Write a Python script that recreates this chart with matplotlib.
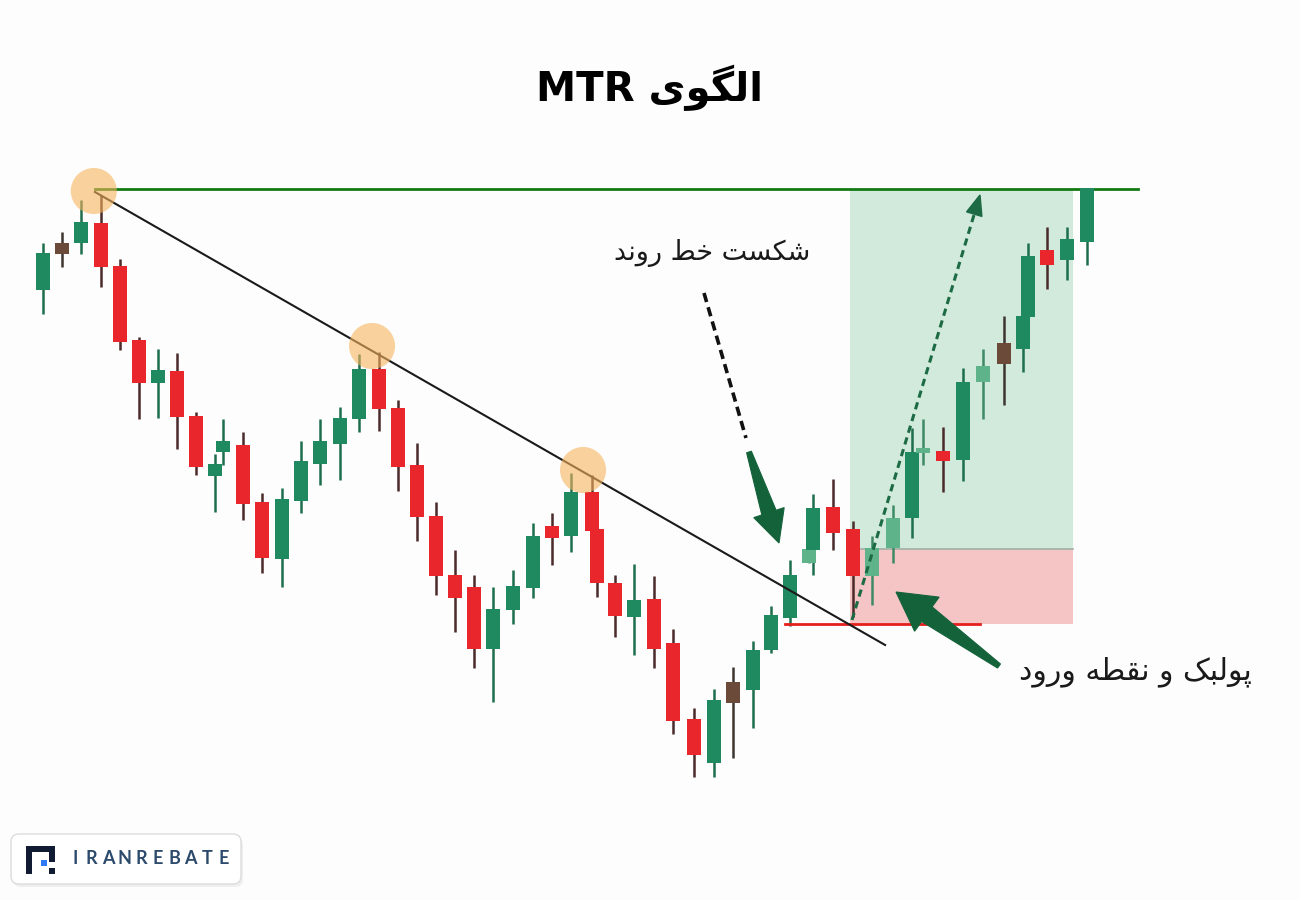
import numpy as np
import matplotlib
matplotlib.use("Agg")
import matplotlib.pyplot as plt
from matplotlib.patches import Rectangle, Polygon, FancyBboxPatch

# ---------------- data ----------------
# time position of each candle (bar units)
t = [0.00, 0.99, 1.98, 2.97, 3.96, 4.92, 5.91, 6.90, 7.86, 8.82,
     9.26, 10.26, 11.23, 12.26, 13.25, 14.24, 15.25, 16.24, 17.25, 18.22,
     19.21, 20.17, 21.16, 22.12, 23.11, 24.13, 25.13, 26.12, 27.11, 28.15,
     28.41, 29.35, 30.34, 31.35, 32.34, 33.42, 34.44, 35.42, 36.41, 37.33,
     38.32, 39.30, 39.52, 40.53, 41.54, 42.54, 43.59, 44.60, 45.16, 46.15,
     47.18, 48.21, 49.30, 50.26, 50.51, 51.52, 52.54, 53.57]
opens = [510, 546, 557, 577, 534, 460, 417, 429, 384, 324,
         348, 355, 298, 241, 299, 336, 356, 381, 431, 392,
         335, 284, 225, 213, 151, 190, 212, 274, 264, 308,
         271, 217, 183, 201, 157, 81, 37, 97, 110, 150,
         182, 237, 250, 293, 271, 224, 252, 282, 347, 349,
         340, 418, 436, 451, 483, 550, 540, 558]
highs = [557, 568, 600, 605, 541, 463, 451, 447, 388, 346,
         381, 368, 307, 312, 359, 381, 393, 446, 448, 400,
         357, 298, 250, 225, 213, 230, 277, 287, 327, 325,
         271, 225, 236, 224, 171, 92, 111, 133, 159, 194,
         240, 251, 306, 321, 279, 264, 295, 372, 381, 373,
         432, 451, 484, 484, 557, 573, 573, 612]
lows = [486, 533, 546, 513, 450, 381, 382, 351, 325, 288,
        335, 280, 227, 213, 287, 315, 320, 368, 369, 309,
        259, 205, 168, 132, 98, 176, 202, 235, 248, 269,
        203, 163, 145, 132, 66, 23, 23, 42, 72, 147,
        174, 237, 225, 250, 183, 195, 237, 262, 335, 308,
        319, 381, 395, 428, 483, 511, 520, 535]
closes = [547, 557, 578, 533, 458, 417, 430, 383, 333, 336,
          359, 296, 242, 301, 339, 359, 382, 431, 391, 333,
          283, 224, 202, 151, 191, 214, 264, 262, 308, 269,
          217, 184, 200, 151, 79, 45, 100, 118, 150, 185,
          225, 251, 292, 267, 224, 252, 282, 348, 352, 339,
          418, 434, 457, 484, 544, 535, 561, 612]
neutral_idx = [1, 37, 52]          # brownish candles
faded_idx = [41, 45, 46, 48, 51]   # lighter green candles

swing_t = [2.62, 16.89, 27.71]     # touched highs (circles)
swing_p = [609, 454, 330]
trend_t = [2.68, 43.20]
trend_p = [608, 155]
target_price = 611
entry_price = 251
stop_price = 176
zone_t = [41.41, 52.84]
target_line_t = [2.68, 56.17]
stop_line_t = [38.07, 48.07]

title_fa = "الگوی"
title_en = "MTR"
label_break = "شکست خط روند"
label_entry = "پولبک و نقطه ورود"
brand = "IRANREBATE"

# ---------------- Persian shaping (presentation forms) ----------------
FORMS = {
    'ا': ('\uFE8D', '\uFE8E', None, None),
    'د': ('\uFEA9', '\uFEAA', None, None),
    'ر': ('\uFEAD', '\uFEAE', None, None),
    'و': ('\uFEED', '\uFEEE', None, None),
    'ل': ('\uFEDD', '\uFEDE', '\uFEDF', '\uFEE0'),
    'گ': ('\uFB92', '\uFB93', '\uFB94', '\uFB95'),
    'ی': ('\uFBFC', '\uFBFD', '\uFBFE', '\uFBFF'),
    'ش': ('\uFEB5', '\uFEB6', '\uFEB7', '\uFEB8'),
    'ک': ('\uFB8E', '\uFB8F', '\uFB90', '\uFB91'),
    'س': ('\uFEB1', '\uFEB2', '\uFEB3', '\uFEB4'),
    'ت': ('\uFE95', '\uFE96', '\uFE97', '\uFE98'),
    'خ': ('\uFEA5', '\uFEA6', '\uFEA7', '\uFEA8'),
    'ط': ('\uFEC1', '\uFEC2', '\uFEC3', '\uFEC4'),
    'ن': ('\uFEE5', '\uFEE6', '\uFEE7', '\uFEE8'),
    'پ': ('\uFB56', '\uFB57', '\uFB58', '\uFB59'),
    'ب': ('\uFE8F', '\uFE90', '\uFE91', '\uFE92'),
    'ق': ('\uFED5', '\uFED6', '\uFED7', '\uFED8'),
    'ه': ('\uFEE9', '\uFEEA', '\uFEEB', '\uFEEC'),
}


def fa(text):
    out = []
    for i, c in enumerate(text):
        if c not in FORMS:
            out.append(c)
            continue
        iso, fin, ini, med = FORMS[c]
        prev = text[i - 1] if i > 0 else None
        nxt = text[i + 1] if i + 1 < len(text) else None
        jp = prev in FORMS and FORMS[prev][2] is not None
        jn = nxt in FORMS and ini is not None
        if jp and jn:
            out.append(med)
        elif jp:
            out.append(fin)
        elif jn:
            out.append(ini)
        else:
            out.append(iso)
    return ''.join(out)[::-1]


# ---------------- figure ----------------
W, H = 1300, 900
fig = plt.figure(figsize=(13, 9), dpi=100)
fig.patch.set_facecolor('#fdfdfd')
ax = fig.add_axes([0, 0, 1, 1])
ax.set_xlim(-42.7 / 19.5, (W - 42.7) / 19.5)
ax.set_ylim(-100, 800)
ax.axis('off')

GREEN = '#1f8a5f'
RED = '#e8262b'
BROWN = '#6b4a3a'
FADED = '#5fb38a'

# trade zones
ax.add_patch(Rectangle((zone_t[0], entry_price), zone_t[1] - zone_t[0],
                       target_price - entry_price, facecolor='#d2eadb',
                       edgecolor='none', zorder=1))
ax.add_patch(Rectangle((zone_t[0], stop_price), zone_t[1] - zone_t[0],
                       entry_price - stop_price, facecolor='#f5c5c5',
                       edgecolor='none', zorder=1))
ax.plot(zone_t, [entry_price, entry_price], color='#9fb0a5', lw=1.2, zorder=1.5)

# target line
ax.plot(target_line_t, [target_price, target_price], color='#137a13', lw=2, zorder=2)
# stop line
ax.plot(stop_line_t, [stop_price, stop_price], color='#e51e1e', lw=2, zorder=4)

# candles
o = np.array(opens, float)
c = np.array(closes, float)
hi = np.array(highs, float)
lo = np.array(lows, float)
tt = np.array(t, float)
body_cols, wick_cols = [], []
for i in range(len(tt)):
    if i in neutral_idx:
        body_cols.append(BROWN); wick_cols.append('#3d3630')
    elif i in faded_idx:
        body_cols.append(FADED); wick_cols.append('#3f8a66')
    elif c[i] >= o[i]:
        body_cols.append(GREEN); wick_cols.append('#1d6e4c')
    else:
        body_cols.append(RED); wick_cols.append('#4a2a2a')
for i in range(len(tt)):
    ax.vlines(tt[i], lo[i], hi[i], color=wick_cols[i], lw=1.8, zorder=3)
    ax.bar(tt[i], max(abs(c[i] - o[i]), 3), bottom=min(o[i], c[i]),
           width=0.72, color=body_cols[i], zorder=3.2, linewidth=0)

# trend line
ax.plot(trend_t, trend_p, color='#1a1a1a', lw=1.5, zorder=5)
# touch circles
ax.scatter(swing_t, swing_p, s=1100, color='#f7b45e', alpha=0.6,
           edgecolors='none', zorder=6)

# ---------------- overlay in pixel space ----------------
ov = fig.add_axes([0, 0, 1, 1])
ov.set_xlim(0, W)
ov.set_ylim(H, 0)
ov.axis('off')
ov.patch.set_alpha(0)


def taper_arrow(p0, p1, w0, w1, hw, hl, color):
    p0 = np.array(p0, float); p1 = np.array(p1, float)
    d = p1 - p0
    L = np.hypot(*d)
    u = d / L
    n = np.array([-u[1], u[0]])
    base = p1 - u * hl
    pts = [p0 + n * w0 / 2, base + n * w1 / 2, base + n * hw / 2, p1,
           base - n * hw / 2, base - n * w1 / 2, p0 - n * w0 / 2]
    ov.add_patch(Polygon(pts, closed=True, facecolor=color, edgecolor=color,
                         lw=0.8, zorder=8))


DKG = '#13623a'
# breakout arrow
ov.plot([704, 746], [293, 438], color='#111111', lw=2.6,
        linestyle=(0, (2.6, 1.5)), zorder=8)
taper_arrow((749, 452), (779, 543), 5, 15, 32, 32, DKG)
# pullback arrow
taper_arrow((999, 666), (896, 592), 5, 18, 42, 38, DKG)

# dashed projection arrow
p0 = np.array([852, 620.0]); p1 = np.array([980, 195.0])
u = (p1 - p0) / np.hypot(*(p1 - p0))
nrm = np.array([-u[1], u[0]])
hb = p1 - u * 20
ov.plot([p0[0], hb[0]], [p0[1], hb[1]], color='#1d6b45', lw=2.2,
        linestyle=(0, (2.4, 1.6)), zorder=8)
ov.add_patch(Polygon([p1, hb + nrm * 8, hb - nrm * 8], closed=True,
                     facecolor='#1d6b45', edgecolor='#1d6b45', zorder=8))

# texts
ov.text(650, 88, title_en + ' ' + fa(title_fa), ha='center', va='center',
        fontsize=29, fontweight='heavy', color='#000000',
        family=['DejaVu Sans'], zorder=9)
ov.text(712, 253, fa(label_break), ha='center', va='center', fontsize=19.5,
        color='#1a1a1a', family=['DejaVu Sans'], zorder=9)
ov.text(1135, 672, fa(label_entry), ha='center', va='center', fontsize=21.5,
        color='#1a1a1a', family=['DejaVu Sans'], zorder=9)

# logo
ov.add_patch(FancyBboxPatch((13, 837), 230, 50, boxstyle='round,pad=0,rounding_size=8',
                            facecolor='#e6e6e6', edgecolor='none', alpha=0.6, zorder=8))
ov.add_patch(FancyBboxPatch((11, 834), 230, 50, boxstyle='round,pad=0,rounding_size=8',
                            facecolor='white', edgecolor='#dcdcdc', lw=1, zorder=8.5))
NAVY = '#101b33'
for (x0, y0, w, h, col) in [(26, 846, 6, 28, NAVY), (26, 846, 29, 6, NAVY),
                            (49, 846, 6, 16, NAVY), (40.5, 860, 6, 6, '#2f7bf5'),
                            (49, 868, 6, 6, NAVY)]:
    ov.add_patch(Rectangle((x0, y0), w, h, facecolor=col, edgecolor='none', zorder=9))
for k, ch in enumerate(brand):
    ov.text(75 + k * 16.5, 859, ch, ha='center', va='center', fontsize=13,
            fontweight='bold', color='#2c4a6b', family=['Lato', 'DejaVu Sans'], zorder=9)

fig.savefig('out.png', dpi=100, facecolor=fig.get_facecolor())
